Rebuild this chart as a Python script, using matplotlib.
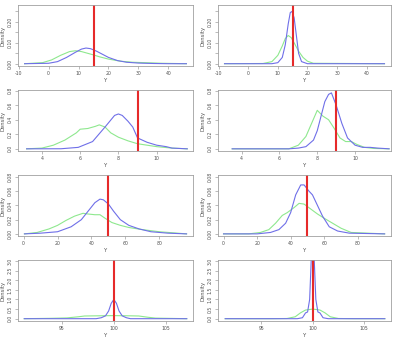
import matplotlib
matplotlib.use("Agg")
import matplotlib.pyplot as plt

# ---------------- data ----------------
# Panel 1 (row 1, left)
p1_blue_x = [-8, 0, 3, 6, 9, 11, 12.5, 14, 16, 18, 20, 23, 26, 30, 35, 40, 46]
p1_blue_y = [0.0, 0.002, 0.01, 0.03, 0.055, 0.07, 0.075, 0.072, 0.06, 0.045, 0.03, 0.015, 0.007, 0.003, 0.001, 0.0, 0.0]
p1_green_x = [-8, -2, 1, 4, 7, 9, 11, 13, 15, 17, 20, 24, 28, 32, 38, 46]
p1_green_y = [0.0, 0.005, 0.018, 0.04, 0.058, 0.062, 0.058, 0.05, 0.042, 0.033, 0.022, 0.012, 0.007, 0.005, 0.002, 0.0]
p1_true = 15

# Panel 2 (row 1, right)
p2_blue_x = [-8, 8, 10, 11.5, 12.5, 13.5, 14.2, 14.8, 15.5, 16.3, 17, 18, 20, 46]
p2_blue_y = [0, 0, 0.005, 0.03, 0.09, 0.19, 0.245, 0.25, 0.22, 0.13, 0.05, 0.01, 0.0, 0]
p2_green_x = [-8, 5, 8, 10, 11.5, 12.5, 13.5, 14.5, 15.5, 17, 18.5, 20, 22, 46]
p2_green_y = [0, 0.001, 0.01, 0.04, 0.085, 0.12, 0.135, 0.125, 0.1, 0.06, 0.03, 0.012, 0.002, 0]
p2_true = 15

# Panel 3 (row 2, left)
p3_blue_x = [3.2, 5, 5.9, 6.65, 7.3, 7.8, 8.0, 8.2, 8.5, 8.75, 9.0, 9.5, 10.0, 10.5, 10.8, 11.6]
p3_blue_y = [0, 0.001, 0.02, 0.1, 0.3, 0.46, 0.48, 0.46, 0.38, 0.3, 0.15, 0.09, 0.05, 0.03, 0.01, 0]
p3_green_x = [3.2, 4, 4.6, 5.2, 5.8, 6.0, 6.4, 6.8, 7.0, 7.3, 7.6, 8.0, 8.5, 9.0, 9.5, 10.0, 10.8, 11.6]
p3_green_y = [0, 0.01, 0.05, 0.12, 0.22, 0.27, 0.28, 0.31, 0.33, 0.3, 0.22, 0.16, 0.11, 0.07, 0.05, 0.03, 0.01, 0]
p3_true = 9

# Panel 4 (row 2, right)
p4_blue_x = [3.5, 6.5, 7.0, 7.4, 7.8, 8.0, 8.2, 8.4, 8.6, 8.75, 9.0, 9.3, 9.6, 10.0, 10.4, 10.8, 11.2, 11.8]
p4_blue_y = [0, 0.0, 0.01, 0.03, 0.12, 0.25, 0.45, 0.65, 0.75, 0.77, 0.6, 0.35, 0.15, 0.05, 0.02, 0.02, 0.01, 0]
p4_green_x = [3.5, 6.5, 7.0, 7.4, 7.7, 8.0, 8.3, 8.6, 8.9, 9.2, 9.5, 9.8, 10.1, 10.5, 11.0, 11.8]
p4_green_y = [0, 0.0, 0.05, 0.17, 0.35, 0.53, 0.45, 0.4, 0.28, 0.15, 0.1, 0.1, 0.06, 0.02, 0.005, 0]
p4_true = 9

# Panel 5 (row 3, left)
p5_blue_x = [0.5, 10, 20, 28, 34, 38, 42, 45, 47, 50, 53, 57, 62, 68, 75, 85, 96]
p5_blue_y = [0, 0.001, 0.003, 0.01, 0.02, 0.032, 0.044, 0.049, 0.048, 0.042, 0.032, 0.02, 0.012, 0.007, 0.003, 0.001, 0]
p5_green_x = [0.5, 8, 15, 20, 25, 30, 35, 38, 42, 45, 48, 52, 57, 62, 70, 80, 96]
p5_green_y = [0, 0.002, 0.007, 0.012, 0.019, 0.025, 0.029, 0.028, 0.027, 0.027, 0.022, 0.016, 0.012, 0.009, 0.006, 0.003, 0]
p5_true = 50

# Panel 6 (row 3, right)
p6_blue_x = [0, 20, 28, 33, 37, 40, 43, 46, 48, 51, 53, 56, 59, 63, 68, 75, 96]
p6_blue_y = [0, 0.0, 0.002, 0.006, 0.015, 0.03, 0.055, 0.069, 0.069, 0.06, 0.055, 0.04, 0.025, 0.01, 0.004, 0.001, 0]
p6_green_x = [0, 15, 22, 27, 31, 35, 38, 42, 45, 48, 52, 56, 60, 65, 70, 76, 96]
p6_green_y = [0, 0.0, 0.002, 0.006, 0.015, 0.026, 0.03, 0.037, 0.043, 0.042, 0.035, 0.028, 0.022, 0.015, 0.008, 0.002, 0]
p6_true = 50

# Panel 7 (row 4, left)
p7_blue_x = [91.4, 98.3, 98.8, 99.2, 99.5, 99.75, 100.0, 100.25, 100.5, 100.8, 101.2, 101.6, 107]
p7_blue_y = [0, 0.0, 0.05, 0.15, 0.4, 0.8, 1.0, 0.8, 0.4, 0.15, 0.05, 0.0, 0]
p7_green_x = [91.4, 94, 95.5, 96.6, 97.2, 98.5, 100, 101.5, 102.4, 103.2, 104, 106, 107]
p7_green_y = [0, 0.02, 0.04, 0.1, 0.14, 0.15, 0.16, 0.15, 0.14, 0.08, 0.03, 0.01, 0]
p7_true = 100

# Panel 8 (row 4, right)
p8_blue_x = [91.5, 98.5, 99.0, 99.3, 99.5, 99.7, 99.85, 100, 100.15, 100.3, 100.5, 100.7, 101.0, 101.5, 107]
p8_blue_y = [0, 0, 0.05, 0.3, 0.35, 1.0, 3.0, 4.5, 3.0, 1.0, 0.35, 0.3, 0.05, 0, 0]
p8_green_x = [91.5, 96, 97.5, 98.3, 98.8, 99.3, 100, 100.7, 101.2, 101.7, 102.5, 104, 107]
p8_green_y = [0, 0.0, 0.01, 0.1, 0.3, 0.45, 0.5, 0.45, 0.3, 0.1, 0.01, 0, 0]
p8_true = 100

# axis ticks / labels
p12_xticks = [-10, 0, 10, 20, 30, 40]
p12_yticks = [0.00, 0.05, 0.10, 0.15, 0.20, 0.25]
p12_ylabels = ["0.00", "", "0.10", "", "0.20", ""]
p34_xticks = [4, 6, 8, 10]
p34_yticks = [0.0, 0.2, 0.4, 0.6, 0.8]
p34_ylabels = ["0.0", "0.2", "0.4", "0.6", "0.8"]
p56_xticks = [0, 20, 40, 60, 80]
p56_yticks = [0.00, 0.02, 0.04, 0.06, 0.08]
p56_ylabels = ["0.00", "0.02", "0.04", "0.06", "0.08"]
p78_xticks = [95, 100, 105]
p78_yticks = [0.0, 0.5, 1.0, 1.5, 2.0, 2.5, 3.0]
p78_ylabels = ["0.0", "0.5", "1.0", "1.5", "2.0", "2.5", "3.0"]

panels = [
    (p1_blue_x, p1_blue_y, p1_green_x, p1_green_y, p1_true, p12_xticks, p12_yticks, p12_ylabels, (-10.2, 48.2), (-0.011, 0.281)),
    (p2_blue_x, p2_blue_y, p2_green_x, p2_green_y, p2_true, p12_xticks, p12_yticks, p12_ylabels, (-10.2, 48.2), (-0.011, 0.281)),
    (p3_blue_x, p3_blue_y, p3_green_x, p3_green_y, p3_true, p34_xticks, p34_yticks, p34_ylabels, (2.75, 11.9), (-0.03, 0.81)),
    (p4_blue_x, p4_blue_y, p4_green_x, p4_green_y, p4_true, p34_xticks, p34_yticks, p34_ylabels, (2.75, 11.9), (-0.03, 0.81)),
    (p5_blue_x, p5_blue_y, p5_green_x, p5_green_y, p5_true, p56_xticks, p56_yticks, p56_ylabels, (-3.3, 99.8), (-0.003, 0.083)),
    (p6_blue_x, p6_blue_y, p6_green_x, p6_green_y, p6_true, p56_xticks, p56_yticks, p56_ylabels, (-3.3, 99.8), (-0.003, 0.083)),
    (p7_blue_x, p7_blue_y, p7_green_x, p7_green_y, p7_true, p78_xticks, p78_yticks, p78_ylabels, (90.8, 107.6), (-0.12, 3.05)),
    (p8_blue_x, p8_blue_y, p8_green_x, p8_green_y, p8_true, p78_xticks, p78_yticks, p78_ylabels, (90.8, 107.6), (-0.12, 3.05)),
]

# ---------------- layout ----------------
W, H = 396, 337
fig = plt.figure(figsize=(W / 100, H / 100), dpi=100)
fig.patch.set_facecolor("white")

col_left = [18, 218]
col_width = [175, 173]
row_top = [5, 90, 175, 260]
row_h = 61

frame_col = "#a0a0a0"
text_col = "#505050"
blue = "#6f6fe8"
green = "#8ee88e"
red = "#e62a2a"

for i, (bx, by, gx, gy, tv, xt, yt, yl, xlim, ylim) in enumerate(panels):
    r, c = divmod(i, 2)
    left = col_left[c] / W
    bottom = 1 - (row_top[r] + row_h) / H
    ax = fig.add_axes([left, bottom, col_width[c] / W, row_h / H])
    ax.plot(gx, gy, color=green, lw=0.8)
    ax.plot(bx, by, color=blue, lw=0.8)
    ax.axvline(tv, color=red, lw=1.5)
    ax.set_xlim(*xlim)
    ax.set_ylim(*ylim)
    ax.set_xticks(xt)
    ax.set_xticklabels([str(v) for v in xt])
    ax.set_yticks(yt)
    ax.set_yticklabels(yl, rotation=90, va="center")
    for s in ax.spines.values():
        s.set_color(frame_col)
        s.set_linewidth(0.6)
    ax.tick_params(axis="both", length=2, width=0.5, colors=frame_col,
                   labelsize=3.3, labelcolor=text_col, pad=1.8)
    ax.set_xlabel("Y", fontsize=3.8, color=text_col, labelpad=1.2)
    ax.set_ylabel("Density", fontsize=3.8, color=text_col, labelpad=1.5)

fig.savefig("out.png", dpi=100)
